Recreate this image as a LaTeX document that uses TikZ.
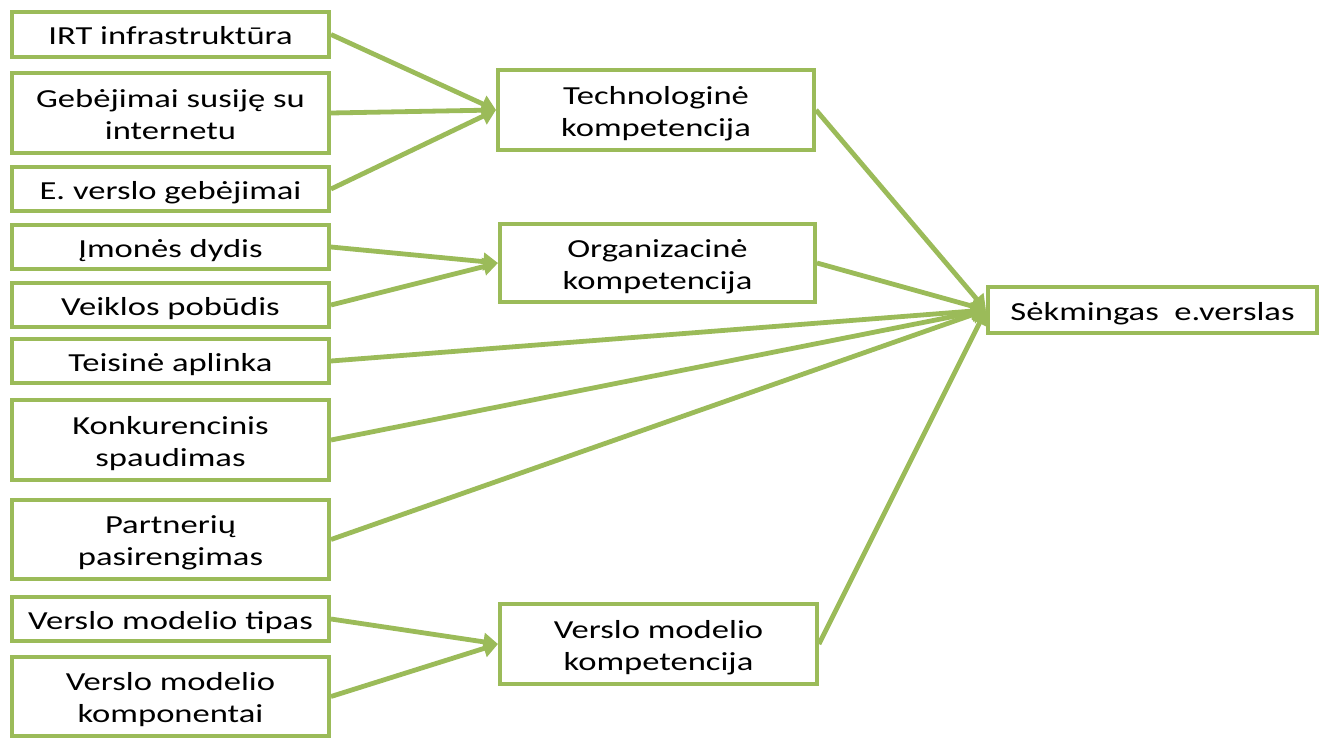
\documentclass[tikz,border=0pt]{standalone}
\usepackage{fontspec}
\setmainfont{Carlito}
\usetikzlibrary{arrows.meta}
\definecolor{grn}{RGB}{155,187,89}
\tikzset{
  bx/.style={draw=grn, line width=3pt, fill=white, align=center, inner sep=0pt,
    font=\fontsize{19.5}{24}\selectfont},
  arr/.style={draw=grn, line width=3.6pt, -{Triangle[length=11pt,width=13pt]}},
}
\newcommand{\bxn}[6]{\node[bx, minimum width={(#4-#2)*0.75pt}, minimum height={(#5-#3)*0.75pt}] (#1) at ({(#2+#4)/2},{(#3+#5)/2}) {\raisebox{-3pt}[\height][\depth]{\scalebox{1.33}[1]{\begin{tabular}{@{}c@{}}#6\end{tabular}}}};}
\begin{document}
\begin{tikzpicture}[x=0.75pt,y=-0.75pt]
\useasboundingbox (0,0) rectangle (1327,738);
\bxn{a1}{12}{12}{329}{57}{IRT infrastruktūra}
\bxn{a2}{12}{73}{329}{153}{Gebėjimai susiję su\\internetu}
\bxn{a3}{12}{167}{329}{211}{E. verslo gebėjimai\hspace{6pt}}
\bxn{b1}{12}{225}{329}{269}{Įmonės dydis}
\bxn{b2}{12}{283}{329}{327}{Veiklos pobūdis}
\bxn{c1}{12}{339}{329}{383}{Teisinė aplinka}
\bxn{c2}{12}{400}{329}{480}{Konkurencinis\\spaudimas}
\bxn{c3}{12}{500}{329}{579}{Partnerių\\pasirengimas}
\bxn{d1}{12}{597}{329}{641}{Verslo modelio tipas}
\bxn{d2}{12}{657}{329}{736}{Verslo modelio\\komponentai}
\bxn{T}{498}{70}{814}{150}{Technologinė\\kompetencija}
\bxn{O}{500}{224}{815}{302}{Organizacinė\\kompetencija}
\bxn{V}{500}{604}{817}{684}{Verslo modelio\\kompetencija}
\bxn{S}{988}{287}{1317}{333}{Sėkmingas\ \ e.verslas}
\draw[arr] (a1.east) -- (T.west);
\draw[arr] (a2.east) -- (T.west);
\draw[arr] (a3.east) -- (T.west);
\draw[arr] (b1.east) -- (O.west);
\draw[arr] (b2.east) -- (O.west);
\draw[arr] (d1.east) -- (V.west);
\draw[arr] (d2.east) -- (V.west);
\draw[arr] (T.east) -- (S.west);
\draw[arr] (O.east) -- (S.west);
\draw[arr] (c1.east) -- (S.west);
\draw[arr] (c2.east) -- (S.west);
\draw[arr] (c3.east) -- (S.west);
\draw[arr] (V.east) -- (S.west);
\end{tikzpicture}
\end{document}
